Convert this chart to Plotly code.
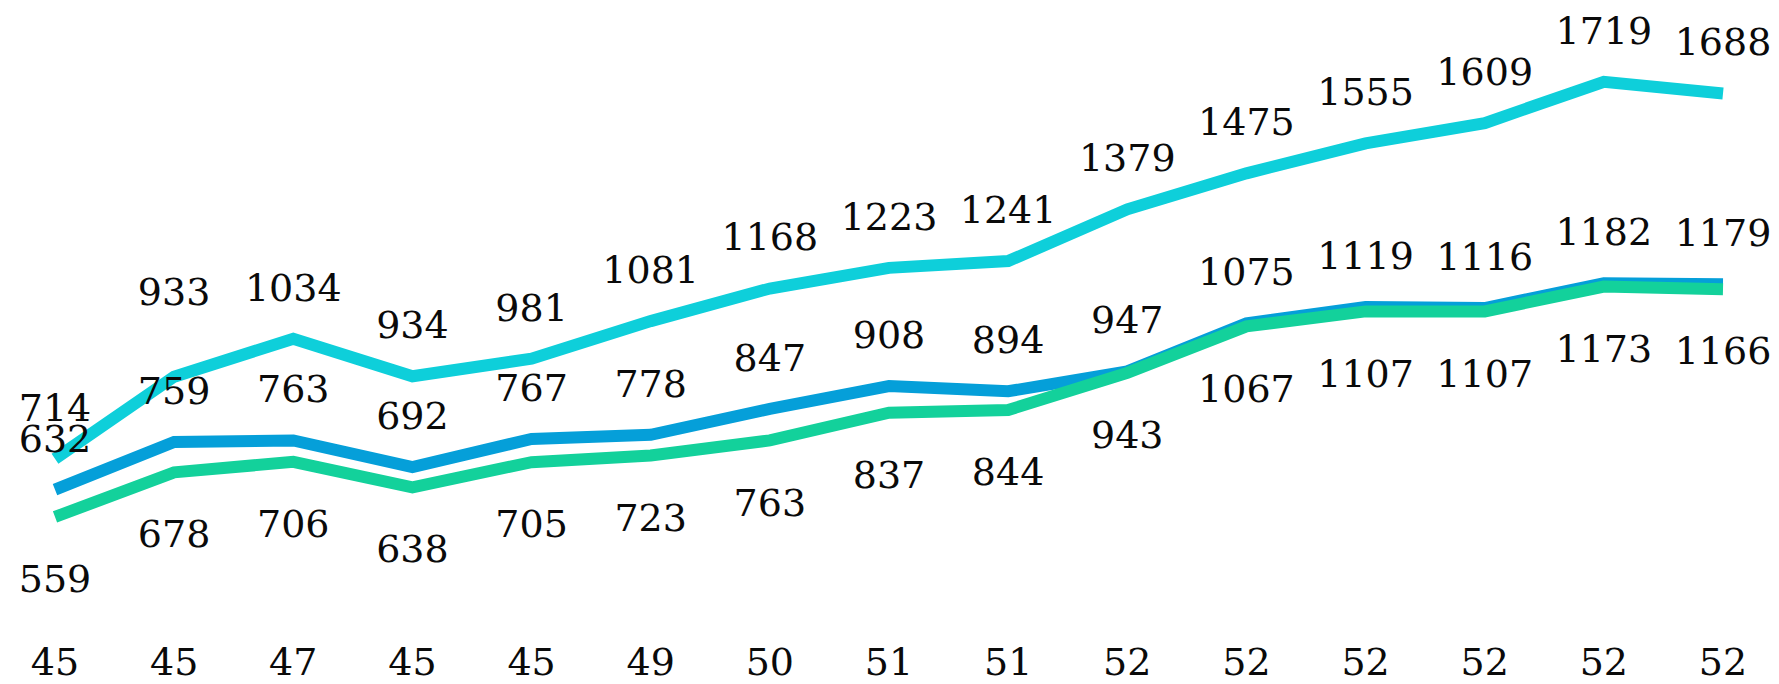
import plotly.graph_objects as go

x_labels = ["45", "45", "47", "45", "45", "49", "50", "51", "51", "52", "52", "52", "52", "52", "52"]
series_top = [714, 933, 1034, 934, 981, 1081, 1168, 1223, 1241, 1379, 1475, 1555, 1609, 1719, 1688]
series_mid = [632, 759, 763, 692, 767, 778, 847, 908, 894, 947, 1075, 1119, 1116, 1182, 1179]
series_low = [559, 678, 706, 638, 705, 723, 763, 837, 844, 943, 1067, 1107, 1107, 1173, 1166]

x = list(range(len(x_labels)))
FONT = "DejaVu Serif"
FS = 38

# invisible marker sizes only set the label distance from the line
pad_top = [44, 98] + [44] * 13
pad_mid = [44] * 15
pad_low = [73] * 15

fig = go.Figure()

def add(vals, color, pos, msize):
    fig.add_trace(go.Scatter(
        x=x, y=vals, mode="lines+markers+text",
        line=dict(color=color, width=12),
        marker=dict(size=msize, color="rgba(0,0,0,0)",
                    line=dict(width=0, color="rgba(0,0,0,0)")),
        text=[str(v) for v in vals], textposition=pos,
        textfont=dict(family=FONT, size=FS, color="#0a0a0a"),
        cliponaxis=False, hoverinfo="skip", showlegend=False,
    ))

add(series_top, "#0ecfda", "top center", pad_top)
add(series_mid, "#059fd9", "top center", pad_mid)
add(series_low, "#13d19b", "bottom center", pad_low)

fig.update_layout(
    width=1779, height=684,
    margin=dict(l=0, r=0, t=0, b=48),
    paper_bgcolor="white", plot_bgcolor="white",
    xaxis=dict(range=[-0.4616, 14.47], tickmode="array", tickvals=x, ticktext=x_labels,
               showgrid=False, zeroline=False, showline=False,
               tickfont=dict(family=FONT, size=FS, color="#0a0a0a")),
    yaxis=dict(range=[247 - 2 / 0.3775, 1937], visible=False, showgrid=False, zeroline=False),
)

fig.write_html(
    "out.html",
    config={"displayModeBar": False},
    post_script="document.body.style.margin='0';document.body.style.overflow='hidden';",
)
